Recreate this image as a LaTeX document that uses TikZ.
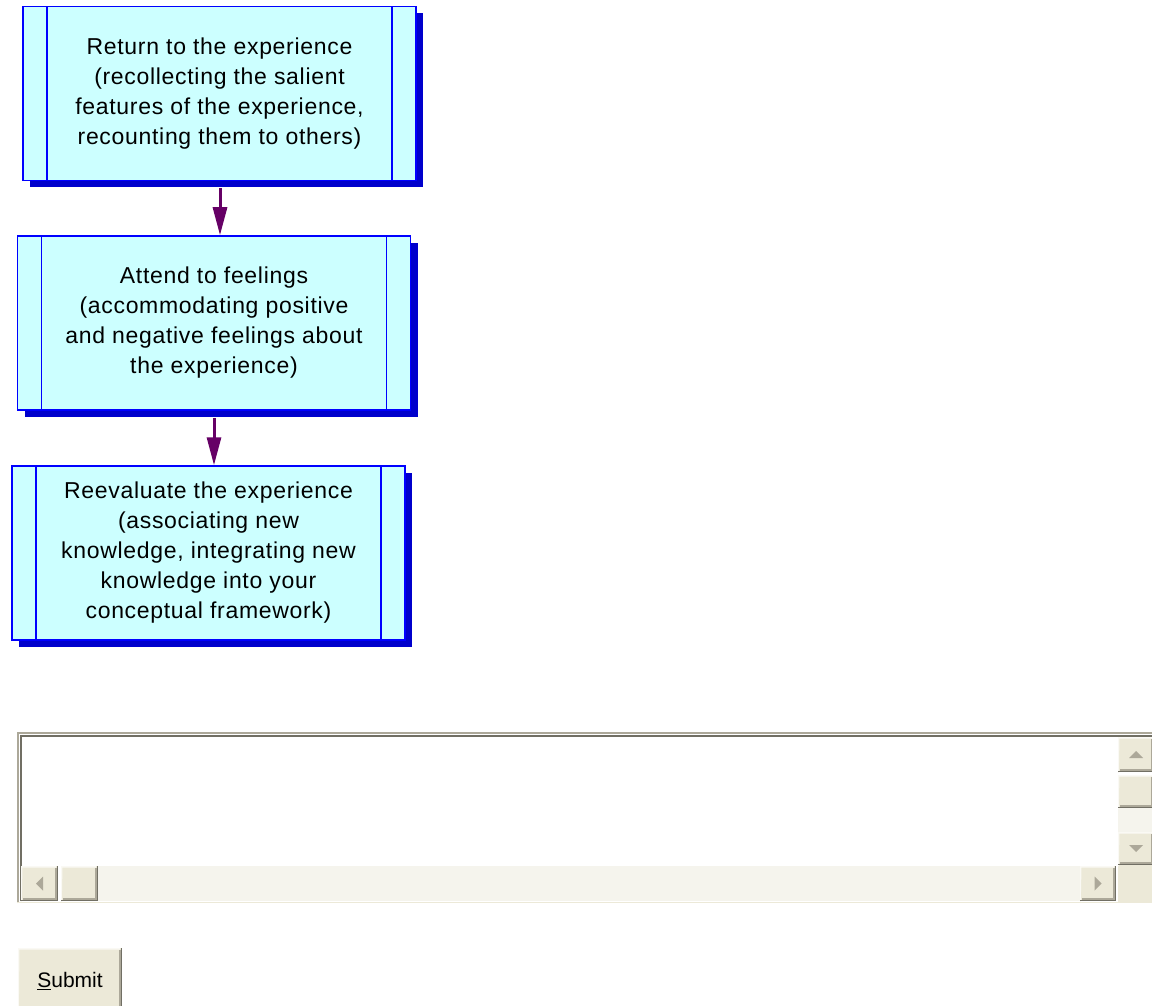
\documentclass[tikz,border=0pt]{standalone}
\usepackage{fontspec}
\setmainfont{Liberation Sans}
\newfontfamily\stepfont[LetterSpace=3]{Liberation Sans}
\usetikzlibrary{arrows.meta,shadows,positioning}

\definecolor{boxfill}{RGB}{204,255,255}
\definecolor{boxline}{RGB}{0,0,255}
\definecolor{boxshade}{RGB}{0,0,204}
\definecolor{flowcol}{RGB}{102,0,102}
\definecolor{btnface}{RGB}{236,233,216}
\definecolor{btndark}{RGB}{113,111,100}
\definecolor{btnmid}{RGB}{172,168,153}
\definecolor{btnlight}{RGB}{250,249,244}
\definecolor{trackcol}{RGB}{245,244,237}

\tikzset{
  stepbox/.style={rectangle,draw=boxline,line width=1.5pt,fill=boxfill,
    minimum width=393pt,minimum height=174pt,inner sep=0pt,align=center,
    font=\stepfont\fontsize{23}{30}\selectfont,
    drop shadow={shadow xshift=7pt,shadow yshift=-7pt,fill=boxshade,opacity=1},
    path picture={
      \draw[boxline,line width=1.5pt]
        ([xshift=24pt]path picture bounding box.north west) --
        ([xshift=24pt]path picture bounding box.south west);
      \draw[boxline,line width=1.5pt]
        ([xshift=-24pt]path picture bounding box.north east) --
        ([xshift=-24pt]path picture bounding box.south east);
    }},
  flow/.style={-{Triangle[length=28pt,width=14pt]},line width=3pt,draw=flowcol,fill=flowcol},
  xpbtn/.style={rectangle,fill=btnface,inner sep=0pt,
    path picture={
      \draw[btnlight,line width=1.5pt]
        ([yshift=-2.25pt]path picture bounding box.south west) --
        ([xshift=.75pt,yshift=-.75pt]path picture bounding box.north west) --
        ([xshift=-2.25pt,yshift=-.75pt]path picture bounding box.north east);
      \draw[btnmid,line width=1.5pt]
        ([xshift=-2.25pt,yshift=-1.5pt]path picture bounding box.north east) --
        ([xshift=-2.25pt,yshift=2.25pt]path picture bounding box.south east) --
        ([xshift=1.5pt,yshift=2.25pt]path picture bounding box.south west);
      \draw[btndark,line width=1.5pt]
        ([xshift=-.75pt]path picture bounding box.north east) --
        ([xshift=-.75pt,yshift=.75pt]path picture bounding box.south east) --
        ([yshift=.75pt]path picture bounding box.south west);
    }},
  glyph/.style={fill=btnmid},
}

\begin{document}
\begin{tikzpicture}[x=1pt,y=-1pt]
  \useasboundingbox[fill=white] (0,0) rectangle (1152,1006);

  % the three steps
  \node[stepbox] (recall) at (219.5,93.5)
    {Return to the experience\\(recollecting the salient\\features of the experience,\\recounting them to others)};
  \node[stepbox] (feelings) at (214,323)
    {Attend to feelings\\(accommodating positive\\and negative feelings about\\the experience)};
  \node[stepbox] (reevaluate) at (208.5,553)
    {Reevaluate the experience\\(associating new\\knowledge, integrating new\\knowledge into your\\conceptual framework)};

  \draw[flow] ([xshift=.5pt,yshift=-7pt]recall.south) -- ([xshift=.5pt]recall.south |- feelings.north);
  \draw[flow] ([yshift=-7pt]feelings.south) -- (feelings.south |- reevaluate.north);

  % text area
  \fill[white] (17,732) rectangle (1152,903);
  \draw[btnmid,line width=2pt] (18,903) -- (18,733) -- (1152,733);
  \draw[btndark,line width=1.5pt] (20.75,901) -- (20.75,735.75) -- (1152,735.75);
  \draw[btnface,line width=1.5pt] (17,902.5) -- (1152,902.5);

  \fill[trackcol] (98,866) rectangle (1080,901);
  \fill[trackcol] (1118,808) rectangle (1152,832);
  \fill[btnface] (1118,865) rectangle (1152,902);

  \node[xpbtn,minimum width=36pt,minimum height=35pt] (upbtn) at (1136,754.5) {};
  \node[xpbtn,minimum width=36pt,minimum height=33pt] (vthumb) at (1136,791.5) {};
  \node[xpbtn,minimum width=36pt,minimum height=33pt] (downbtn) at (1136,848.5) {};
  \node[xpbtn,minimum width=37pt,minimum height=35pt] (leftbtn) at (39.5,883.5) {};
  \node[xpbtn,minimum width=37pt,minimum height=35pt] (hthumb) at (79.5,883.5) {};
  \node[xpbtn,minimum width=36pt,minimum height=35pt] (rightbtn) at (1098,883.5) {};

  \fill[glyph] ([shift={(-7,3.5)}]upbtn.center) -- ([shift={(7,3.5)}]upbtn.center)
    -- ([shift={(0,-3.5)}]upbtn.center) -- cycle;
  \fill[glyph] ([shift={(-7,-3.5)}]downbtn.center) -- ([shift={(7,-3.5)}]downbtn.center)
    -- ([shift={(0,3.5)}]downbtn.center) -- cycle;
  \fill[glyph] ([shift={(3.5,-7)}]leftbtn.center) -- ([shift={(3.5,7)}]leftbtn.center)
    -- ([shift={(-3.5,0)}]leftbtn.center) -- cycle;
  \fill[glyph] ([shift={(-3.5,-7)}]rightbtn.center) -- ([shift={(-3.5,7)}]rightbtn.center)
    -- ([shift={(3.5,0)}]rightbtn.center) -- cycle;

  % submit button
  \node[xpbtn,minimum width=104pt,minimum height=66pt,font=\fontsize{21}{24}\selectfont]
    (submit) at (70,981) {\underline{S}ubmit};
\end{tikzpicture}
\end{document}
